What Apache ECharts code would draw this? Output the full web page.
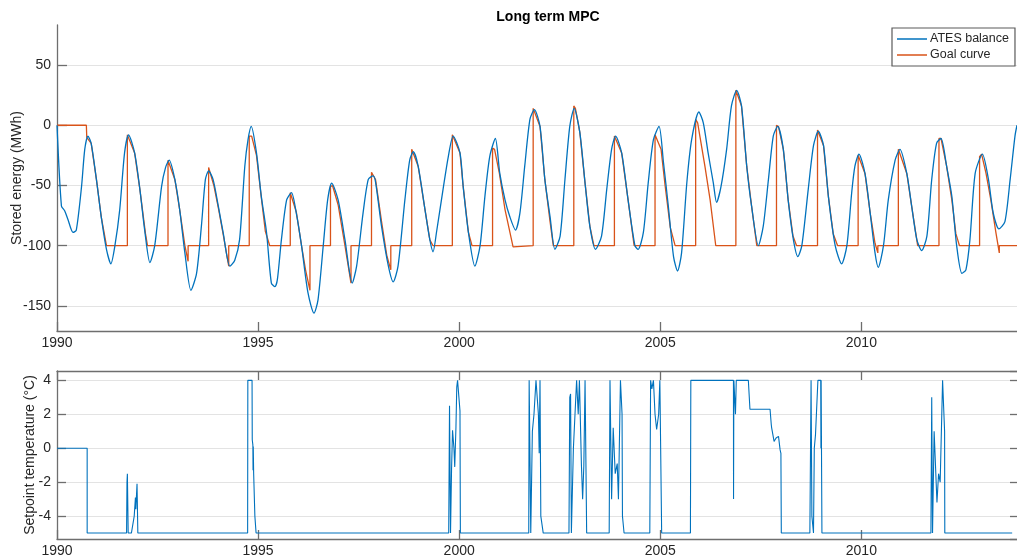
<!DOCTYPE html>
<html>
<head>
<meta charset="utf-8">
<script src="https://cdn.jsdelivr.net/npm/echarts@6/dist/echarts.min.js"></script>
<style>
html,body{margin:0;padding:0;background:#fff;}
#chart{width:1017px;height:557px;}
</style>
</head>
<body>
<div id="chart"></div>
<script>
// ---------- data (year, value) ----------
var titleText = 'Long term MPC';
var xTickYears = [1990, 1995, 2000, 2005, 2010];

var atesBalance = [
[1990.00,0],[1990.11,-67],[1990.19,-71],[1990.27,-78],[1990.40,-89],[1990.48,-87],[1990.61,-51],[1990.69,-20],[1990.77,-9],
[1990.85,-15],[1990.98,-45],[1991.10,-76],[1991.23,-103],[1991.34,-115],[1991.44,-100],[1991.56,-70],[1991.68,-23],[1991.78,-8],
[1991.93,-23],[1992.06,-53],[1992.18,-87],[1992.31,-114],[1992.43,-100],[1992.60,-51],[1992.70,-35],[1992.79,-29],
[1992.93,-45],[1993.05,-70],[1993.18,-106],[1993.33,-137],[1993.47,-123],[1993.59,-84],[1993.69,-45],[1993.77,-38],
[1993.88,-45],[1994.01,-67],[1994.13,-89],[1994.30,-117],[1994.42,-112],[1994.54,-95],[1994.67,-34],[1994.75,-12],[1994.83,-1],
[1994.96,-23],[1995.08,-59],[1995.21,-89],[1995.33,-131],[1995.42,-134],[1995.48,-128],[1995.58,-95],[1995.71,-62],[1995.83,-56],
[1995.95,-73],[1996.08,-100],[1996.24,-139],[1996.39,-156],[1996.49,-145],[1996.62,-100],[1996.73,-62],[1996.83,-48],
[1996.99,-62],[1997.16,-95],[1997.34,-131],[1997.45,-117],[1997.61,-73],[1997.74,-45],[1997.86,-42],
[1997.92,-47],[1998.07,-84],[1998.24,-117],[1998.36,-130],[1998.48,-117],[1998.65,-62],[1998.77,-29],[1998.86,-22],
[1998.98,-34],[1999.15,-70],[1999.27,-95],[1999.35,-105],[1999.44,-88],[1999.60,-53],[1999.73,-26],[1999.85,-9],
[2000.02,-23],[2000.10,-51],[2000.23,-89],[2000.39,-117],[2000.52,-100],[2000.64,-59],[2000.76,-26],[2000.90,-11],
[2001.01,-40],[2001.14,-62],[2001.26,-76],[2001.40,-87],[2001.51,-73],[2001.63,-34],[2001.76,5],[2001.87,13],
[2002.01,-1],[2002.13,-45],[2002.26,-76],[2002.38,-103],[2002.51,-92],[2002.63,-45],[2002.75,-1],[2002.86,14],
[2003.00,-6],[2003.13,-48],[2003.25,-84],[2003.39,-103],[2003.54,-92],[2003.67,-53],[2003.79,-20],[2003.89,-9],
[2004.04,-23],[2004.20,-62],[2004.37,-100],[2004.45,-103],[2004.58,-89],[2004.70,-48],[2004.83,-12],[2004.97,-1],
[2005.08,-31],[2005.20,-67],[2005.33,-109],[2005.43,-121],[2005.53,-106],[2005.66,-48],[2005.78,-12],[2005.96,11],
[2006.07,2],[2006.19,-23],[2006.32,-48],[2006.40,-64],[2006.51,-51],[2006.65,-20],[2006.77,16],[2006.90,29],
[2007.02,16],[2007.15,-34],[2007.27,-67],[2007.44,-100],[2007.56,-84],[2007.69,-45],[2007.81,-9],[2007.92,-1],
[2008.06,-20],[2008.18,-62],[2008.31,-95],[2008.42,-109],[2008.52,-100],[2008.68,-53],[2008.81,-17],[2008.93,-5],
[2009.06,-17],[2009.18,-59],[2009.35,-100],[2009.51,-115],[2009.64,-100],[2009.76,-56],[2009.84,-34],[2009.94,-24],
[2010.09,-40],[2010.22,-73],[2010.34,-106],[2010.42,-118],[2010.55,-100],[2010.67,-62],[2010.84,-29],[2010.96,-20],
[2011.13,-40],[2011.25,-67],[2011.38,-95],[2011.50,-104],[2011.63,-92],[2011.75,-45],[2011.87,-15],[2011.98,-11],
[2012.12,-34],[2012.25,-59],[2012.37,-100],[2012.50,-123],[2012.60,-120],[2012.70,-95],[2012.83,-40],[2013.01,-24],
[2013.16,-45],[2013.28,-73],[2013.42,-86],[2013.57,-80],[2013.70,-45],[2013.82,-9],[2013.87,0]
];

var goalCurve = [
[1990.00,0],[1990.73,0],[1990.74,-10],[1990.77,-9],[1990.85,-15],[1990.98,-45],[1991.10,-76],[1991.23,-100],
[1991.75,-100],[1991.75,-8],[1991.78,-8],[1991.93,-23],[1992.06,-53],[1992.20,-90],[1992.25,-100],
[1992.76,-100],[1992.76,-29],[1992.80,-29],[1992.93,-45],[1993.05,-70],[1993.18,-100],[1993.26,-113],[1993.26,-100],
[1993.77,-100],[1993.77,-35],[1993.81,-35],[1993.90,-50],[1994.02,-70],[1994.14,-92],[1994.27,-117],[1994.27,-100],
[1994.78,-100],[1994.78,-9],[1994.84,-9],[1994.96,-25],[1995.08,-60],[1995.18,-88],[1995.29,-100],
[1995.80,-100],[1995.80,-56],[1995.84,-56],[1995.95,-72],[1996.08,-100],[1996.18,-120],[1996.29,-137],[1996.29,-100],
[1996.80,-100],[1996.80,-51],[1996.85,-50],[1996.99,-66],[1997.16,-100],[1997.31,-131],[1997.31,-100],
[1997.82,-100],[1997.82,-39],[1997.86,-39],[1997.92,-45],[1998.07,-80],[1998.20,-108],[1998.30,-120],[1998.30,-100],
[1998.82,-100],[1998.82,-20],[1998.86,-20],[1998.98,-34],[1999.15,-70],[1999.27,-95],[1999.35,-100],
[1999.83,-100],[1999.83,-8],[1999.87,-9],[2000.02,-23],[2000.10,-51],[2000.23,-89],[2000.32,-100],
[2000.83,-100],[2000.83,-19],[2000.88,-20],[2001.00,-40],[2001.14,-70],[2001.34,-101],
[2001.84,-100],[2001.84,14],[2001.88,13],[2002.01,-1],[2002.13,-45],[2002.26,-80],[2002.34,-100],
[2002.85,-100],[2002.85,16],[2002.89,14],[2003.00,-6],[2003.13,-48],[2003.25,-84],[2003.35,-100],
[2003.86,-100],[2003.86,-9],[2003.90,-9],[2004.04,-23],[2004.20,-62],[2004.35,-100],
[2004.87,-100],[2004.87,-8],[2004.91,-8],[2005.02,-20],[2005.12,-50],[2005.25,-85],[2005.37,-100],
[2005.88,-100],[2005.88,5],[2005.93,2],[2005.99,-10],[2006.11,-34],[2006.24,-62],[2006.38,-100],
[2006.88,-100],[2006.88,29],[2006.92,28],[2007.02,16],[2007.15,-34],[2007.27,-67],[2007.40,-100],
[2007.89,-100],[2007.89,0],[2007.94,-1],[2008.06,-20],[2008.18,-62],[2008.30,-92],[2008.39,-100],
[2008.91,-100],[2008.91,-4],[2008.95,-5],[2009.06,-17],[2009.18,-59],[2009.30,-90],[2009.41,-100],
[2009.92,-100],[2009.92,-25],[2009.96,-25],[2010.09,-40],[2010.22,-73],[2010.34,-98],[2010.41,-106],[2010.41,-100],
[2010.92,-100],[2010.92,-20],[2010.96,-20],[2011.13,-40],[2011.25,-67],[2011.40,-100],
[2011.93,-100],[2011.93,-11],[2011.98,-11],[2012.12,-34],[2012.25,-62],[2012.35,-90],[2012.44,-100],
[2012.94,-100],[2012.94,-26],[2012.99,-24],[2013.10,-40],[2013.22,-62],[2013.35,-90],[2013.43,-106],[2013.43,-100],
[2013.92,-100]
];

var setpointTemp = [
[1990.00,0],[1990.75,0],[1990.75,-5],[1991.73,-5],[1991.74,-2],[1991.75,-1.5],[1991.77,-5],[1991.85,-5],
[1991.92,-4],[1991.95,-2.9],[1991.96,-3.6],[1991.99,-2.1],[1992.01,-5],
[1994.74,-5],[1994.745,4],[1994.85,4],[1994.855,0.5],[1994.87,0.2],[1994.875,-1.3],[1994.88,0.1],[1994.89,-1.5],[1994.92,-4],[1994.95,-5],
[1999.74,-5],[1999.76,2.5],[1999.785,-5],[1999.81,-1.3],[1999.835,1.06],[1999.87,0],[1999.89,-1.1],[1999.92,1.25],
[1999.94,3.6],[1999.96,4],[2000.00,4],[2000.02,2.2],[2000.03,-5],
[2001.73,-5],[2001.74,4],[2001.78,-5],[2001.82,1],[2001.86,2],[2001.91,4],[2001.94,4],[2001.97,2],[2001.99,-0.3],
[2002.01,4],[2002.03,-4],[2002.09,-5],
[2002.73,-5],[2002.75,3],[2002.77,3.2],[2002.79,-5],[2002.84,0],[2002.88,2],[2002.92,4],[2002.94,4],[2002.96,2],
[2002.99,4],[2003.02,4],[2003.04,-1],[2003.07,-3],[2003.10,-1],[2003.13,4],[2003.15,4],[2003.17,-5],
[2003.73,-5],[2003.75,4],[2003.79,-3],[2003.83,1.2],[2003.88,-1.5],[2003.93,-0.9],[2003.96,-3],[2004.01,4],
[2004.05,2],[2004.06,-4],[2004.10,-5],
[2004.74,-5],[2004.76,4],[2004.79,3.5],[2004.83,4],[2004.87,2],[2004.91,1.1],[2004.96,2],[2004.99,4],[2005.03,4],[2005.035,-5],
[2005.75,-5],[2005.76,4],[2006.82,4],[2006.822,-3],[2006.83,4],[2006.86,4],[2006.87,2],[2006.89,4],[2007.19,4],
[2007.23,2.3],[2007.73,2.3],[2007.76,1.4],[2007.77,1.2],[2007.83,0.4],[2007.88,0.6],[2007.94,0.7],[2007.98,-0.1],
[2008.00,-0.3],[2008.01,-5],
[2008.72,-5],[2008.75,4],[2008.77,-4],[2008.81,-5],[2008.83,0],[2008.86,0.8],[2008.92,4],[2008.99,4],[2008.995,0],
[2009.00,4],[2009.02,-5],
[2011.73,-5],[2011.75,3],[2011.77,-5],[2011.81,1],[2011.88,-3.2],[2011.92,-1.5],[2011.96,-2],[2011.98,0],
[2012.02,4],[2012.04,4],[2012.07,1],[2012.075,-5],
[2013.75,-5]
];

// ---------- chart ----------
var FONT = '"Liberation Sans", Arial, Helvetica, sans-serif';
var TXT = '#262626';
var AXC = '#6e6e6e';
var GRIDC = '#e3e3e3';
var BLUE = '#0072BD', ORANGE = '#D95319';
var X_MIN = 1990, X_MAX = 2013.92;

function xAx(grid, opts) {
  return Object.assign({
    gridIndex: grid, type: 'value', min: X_MIN, max: X_MAX, interval: 5,
    axisLine: {show: true, onZero: false, lineStyle: {color: AXC, width: 1.3}},
    axisTick: {show: true, inside: true, length: 9, lineStyle: {color: AXC, width: 1.3}},
    axisLabel: {show: true, color: TXT, fontSize: 14, fontFamily: FONT, margin: 5, showMaxLabel: false,
      formatter: function (v) { return xTickYears.indexOf(Math.round(v)) >= 0 && Math.abs(v - Math.round(v)) < 1e-6 ? String(Math.round(v)) : ''; }},
    splitLine: {show: false}
  }, opts || {});
}

var chart = echarts.init(document.getElementById('chart'), null, {renderer: 'canvas'});
chart.setOption({
  animation: false,
  backgroundColor: '#ffffff',
  title: {
    text: titleText, left: 543, top: 5, textAlign: 'center',
    textStyle: {fontFamily: FONT, fontSize: 14, fontWeight: 'bold', color: '#000'}
  },
  legend: {
    data: ['ATES balance', 'Goal curve'],
    left: 892, top: 28, orient: 'vertical',
    icon: 'rect', itemWidth: 30, itemHeight: 1.5, itemGap: 2,
    padding: [4, 6, 4, 5],
    borderColor: '#5a5a5a', borderWidth: 1.2, backgroundColor: '#fff',
    textStyle: {fontFamily: FONT, fontSize: 12.5, color: TXT, padding: [0, 0, 0, -2], lineHeight: 14}
  },
  grid: [
    {left: 57, top: 25, width: 962, height: 306, outerBoundsMode: 'none', containLabel: false},
    {left: 57, top: 371, width: 962, height: 168, outerBoundsMode: 'none', containLabel: false}
  ],
  xAxis: [
    xAx(0),
    xAx(1),
    xAx(1, {position: 'top', axisLabel: {show: false}})
  ],
  yAxis: [
    {
      gridIndex: 0, type: 'value', min: -170.8, max: 83.2, splitNumber: 5,
      name: 'Stored energy (MWh)', nameLocation: 'middle', nameGap: 33, nameMoveOverlap: false,
      nameTextStyle: {fontFamily: FONT, fontSize: 14, color: TXT},
      axisLine: {show: true, lineStyle: {color: AXC, width: 1.3}},
      axisTick: {show: true, inside: true, length: 10, lineStyle: {color: AXC, width: 1.3}},
      axisLabel: {color: TXT, fontSize: 14, fontFamily: FONT, margin: 6, showMinLabel: false, showMaxLabel: false},
      splitLine: {show: true, showMinLine: false, showMaxLine: false, lineStyle: {color: GRIDC, width: 1.2}}
    },
    {
      gridIndex: 1, type: 'value', min: -5.35, max: 4.55, splitNumber: 5,
      name: 'Setpoint temperature (°C)', nameLocation: 'middle', nameGap: 20, nameMoveOverlap: false,
      nameTextStyle: {fontFamily: FONT, fontSize: 14, color: TXT},
      axisLine: {show: true, lineStyle: {color: AXC, width: 1.3}},
      axisTick: {show: true, inside: true, length: 9, lineStyle: {color: AXC, width: 1.3}},
      axisLabel: {color: TXT, fontSize: 14, fontFamily: FONT, margin: 6, showMinLabel: false, showMaxLabel: false},
      splitLine: {show: true, showMinLine: false, showMaxLine: false, lineStyle: {color: GRIDC, width: 1.2}}
    },
    {
      gridIndex: 1, type: 'value', min: -5.35, max: 4.55, splitNumber: 5, position: 'right',
      axisLine: {show: true, lineStyle: {color: AXC, width: 1.3}},
      axisTick: {show: true, inside: true, length: 9, lineStyle: {color: AXC, width: 1.3}},
      axisLabel: {show: false},
      splitLine: {show: false}
    }
  ],
  series: [
    {
      name: 'ATES balance', type: 'line', xAxisIndex: 0, yAxisIndex: 0,
      data: atesBalance, symbol: 'none', smooth: 0.25, z: 3,
      lineStyle: {color: BLUE, width: 1.3}, itemStyle: {color: BLUE}
    },
    {
      name: 'Goal curve', type: 'line', xAxisIndex: 0, yAxisIndex: 0,
      data: goalCurve, symbol: 'none', z: 2,
      lineStyle: {color: ORANGE, width: 1.3}, itemStyle: {color: ORANGE}
    },
    {
      name: 'Setpoint', type: 'line', xAxisIndex: 1, yAxisIndex: 1,
      data: setpointTemp, symbol: 'none',
      lineStyle: {color: BLUE, width: 1.1}, itemStyle: {color: BLUE}
    }
  ]
});
</script>
</body>
</html>
